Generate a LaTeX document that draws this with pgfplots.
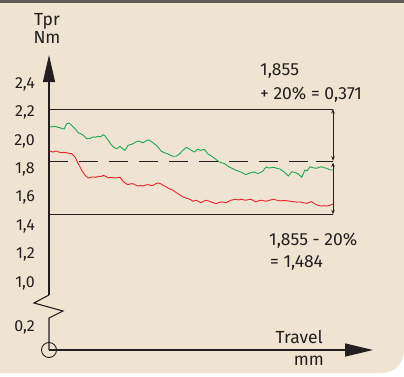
\documentclass[border=0pt]{standalone}
\usepackage{pgfplots}
\pgfplotsset{compat=1.18}
\usetikzlibrary{arrows.meta,backgrounds}
\usepackage{fontspec}
\setmainfont{Fira Sans}
\definecolor{bgc}{RGB}{238,228,209}
\definecolor{topc}{RGB}{95,90,84}
\definecolor{ink}{RGB}{35,31,32}
\definecolor{grn}{RGB}{30,168,80}
\definecolor{rd}{RGB}{236,36,44}
\begin{document}
\begin{tikzpicture}[x=1pt,y=1pt,font=\fontsize{17.5}{20}\selectfont,text=ink]
\begin{axis}[
  x=1pt, y=141.9pt,
  xmin=0, xmax=324, ymin=0.5276, ymax=2.6065,
  enlargelimits=false, clip=false,
  axis line style={draw=none},
  xtick=\empty,
  ytick={0.690,1.0,1.2,1.4,1.6,1.8,2.0,2.2,2.4},
  yticklabels={{0,2},{1,0},{1,2},{1,4},{1,6},{1,8},{2,0},{2,2},{2,4}},
  major tick length=0pt,
  yticklabel style={anchor=east, inner sep=0pt, xshift=-14pt, font=\fontsize{16}{19}\selectfont, text=ink},
]
\addplot[grn, line width=0.9pt] coordinates {
(0,2.106)(2.7,2.099)(5,2.104)(7.7,2.101)(9,2.096)(11,2.094)(13,2.088)(15,2.085)(17.7,2.122)(20,2.127)(22,2.115)(24,2.100)(26,2.087)(29.3,2.059)(32,2.050)(34.3,2.041)(37.7,2.017)(39,2.020)(41,2.017)(42.5,2.024)(44.3,2.029)(46.5,2.027)(49.3,2.034)(51.5,2.030)(54.3,2.045)(56,2.036)(59.3,2.005)(62.7,1.970)(65,1.955)(67.7,1.946)(69.5,1.955)(71,1.963)(73,1.950)(75.7,1.935)(77.5,1.950)(79,1.970)(81.5,1.975)(84,1.981)(86.5,1.992)(89,2.000)(91.5,1.995)(94,1.988)(96.5,2.000)(99.7,2.008)(102,1.998)(104,1.988)(107.3,1.970)(110,1.950)(112.3,1.928)(115.5,1.918)(119,1.909)(121.5,1.900)(124,1.893)(127.3,1.893)(130.7,1.911)(134,1.935)(137.3,1.956)(140.7,1.942)(144,1.928)(145.3,1.923)(148.7,1.942)(152,1.935)(155.3,1.942)(158.7,1.911)(163.7,1.888)(167,1.870)(170.3,1.853)(175.3,1.841)(180.3,1.817)(184,1.805)(187,1.794)(192,1.782)(197,1.763)(200.3,1.775)(205.3,1.782)(208.7,1.770)(213.7,1.787)(217,1.817)(220,1.810)(224.3,1.815)(228,1.808)(231,1.803)(236,1.777)(239.3,1.754)(242.7,1.784)(246,1.779)(249.3,1.768)(252.7,1.745)(256,1.796)(258,1.790)(261,1.819)(264,1.812)(267.7,1.808)(270,1.815)(272.7,1.819)(275,1.812)(277.7,1.808)(281,1.796)(284,1.796)
};
\addplot[rd, line width=0.9pt] coordinates {
(0,1.930)(2,1.926)(4.3,1.923)(6,1.928)(7.7,1.930)(10,1.922)(12.7,1.918)(15,1.921)(17.7,1.918)(20,1.913)(22.7,1.911)(26,1.888)(29.3,1.841)(32.7,1.794)(36,1.759)(39.3,1.740)(42,1.745)(44.3,1.747)(47,1.744)(49.3,1.752)(52,1.750)(54.3,1.759)(57,1.750)(59.3,1.742)(62,1.744)(66,1.740)(71,1.745)(74,1.717)(77,1.700)(79,1.693)(81,1.698)(84,1.700)(86.5,1.690)(89,1.683)(91.5,1.687)(94,1.683)(96.5,1.690)(99,1.693)(101.5,1.688)(104,1.688)(106.5,1.698)(109,1.705)(111.5,1.700)(114,1.688)(116.5,1.680)(119,1.669)(124,1.653)(129,1.629)(134,1.606)(136.5,1.600)(139,1.594)(141.5,1.588)(144,1.576)(147,1.583)(149.5,1.575)(152,1.566)(154.5,1.575)(157,1.583)(159.5,1.578)(162,1.571)(164.5,1.565)(167,1.559)(169.5,1.565)(172,1.571)(174.5,1.569)(177,1.566)(179.5,1.575)(182,1.583)(184.5,1.587)(187,1.590)(189.5,1.585)(192,1.590)(194.5,1.586)(197,1.583)(199.5,1.588)(202,1.590)(204.5,1.580)(207,1.571)(209.5,1.578)(212,1.583)(214.5,1.580)(217,1.576)(220.5,1.583)(224.3,1.590)(227.5,1.584)(231,1.578)(234,1.581)(237.7,1.580)(241,1.576)(244.3,1.573)(247.5,1.570)(251,1.571)(254,1.566)(257.7,1.561)(260,1.568)(262.7,1.573)(265,1.562)(267.7,1.550)(270,1.546)(272.7,1.542)(275,1.545)(277.7,1.542)(281,1.548)(284,1.557)
};
\draw[ink, line width=0.9pt] (axis cs:0,2.226) -- (axis cs:284,2.226);
\draw[ink, line width=0.9pt] (axis cs:0,1.484) -- (axis cs:284,1.484);
\draw[ink, line width=0.9pt, dash pattern=on 19pt off 11pt] (axis cs:0,1.855) -- (axis cs:267,1.855);
\draw[ink, line width=0.9pt] (axis cs:267,1.855) -- (axis cs:284,1.855);
\draw[ink, line width=0.8pt, {Stealth[length=4.5pt,width=3.5pt]}-{Stealth[length=4.5pt,width=3.5pt]}] (axis cs:284,2.226) -- (axis cs:284,1.861);
\draw[ink, line width=0.8pt, {Stealth[length=4.5pt,width=3.5pt]}-{Stealth[length=4.5pt,width=3.5pt]}] (axis cs:284,1.849) -- (axis cs:284,1.484);
\coordinate (O) at (axis cs:0,0.5276);
\end{axis}
\begin{scope}[shift={(O)}]
% background
\begin{scope}[on background layer]
\fill[white] (-49,-26) rectangle (355,350);
\fill[bgc] (-49,-23) -- (-49,347) -- (355,347) -- (355,-1) arc[start angle=0,end angle=-90,radius=22] -- cycle;
\fill[topc] (-49,347) rectangle (355,350);
\end{scope}
% axes
\draw[ink, line width=1.3pt, -{Triangle[length=27pt,width=12pt]}] (0,55) -- (0,295);
\draw[ink, line width=1.1pt] (0,55) -- (-15,47) -- (14,39) -- (0,32) -- (0,0);
\draw[ink, line width=1.3pt, -{Triangle[length=28pt,width=13pt]}] (0,0) -- (324,0);
\draw[ink, line width=0.9pt] (0,0) circle[radius=7.5];
% texts
\node[anchor=base] at (-2,325) {Tpr};
\node[anchor=base] at (-2,307) {Nm};
\node[anchor=base west, inner sep=0pt] at (211,275) {1,855};
\node[anchor=base west, inner sep=0pt] at (211,251) {+ 20\% = 0,371};
\node[anchor=base west, inner sep=0pt] at (220,105) {1,855 - 20\%};
\node[anchor=base west, inner sep=0pt] at (221,83) {= 1,484};
\node[anchor=base east, inner sep=0pt] at (274,7) {Travel};
\node[anchor=base east, inner sep=0pt] at (275,-15) {mm};
\pgfresetboundingbox
\path[use as bounding box] (-49,-26) rectangle (355,350);
\end{scope}
\end{tikzpicture}
\end{document}
